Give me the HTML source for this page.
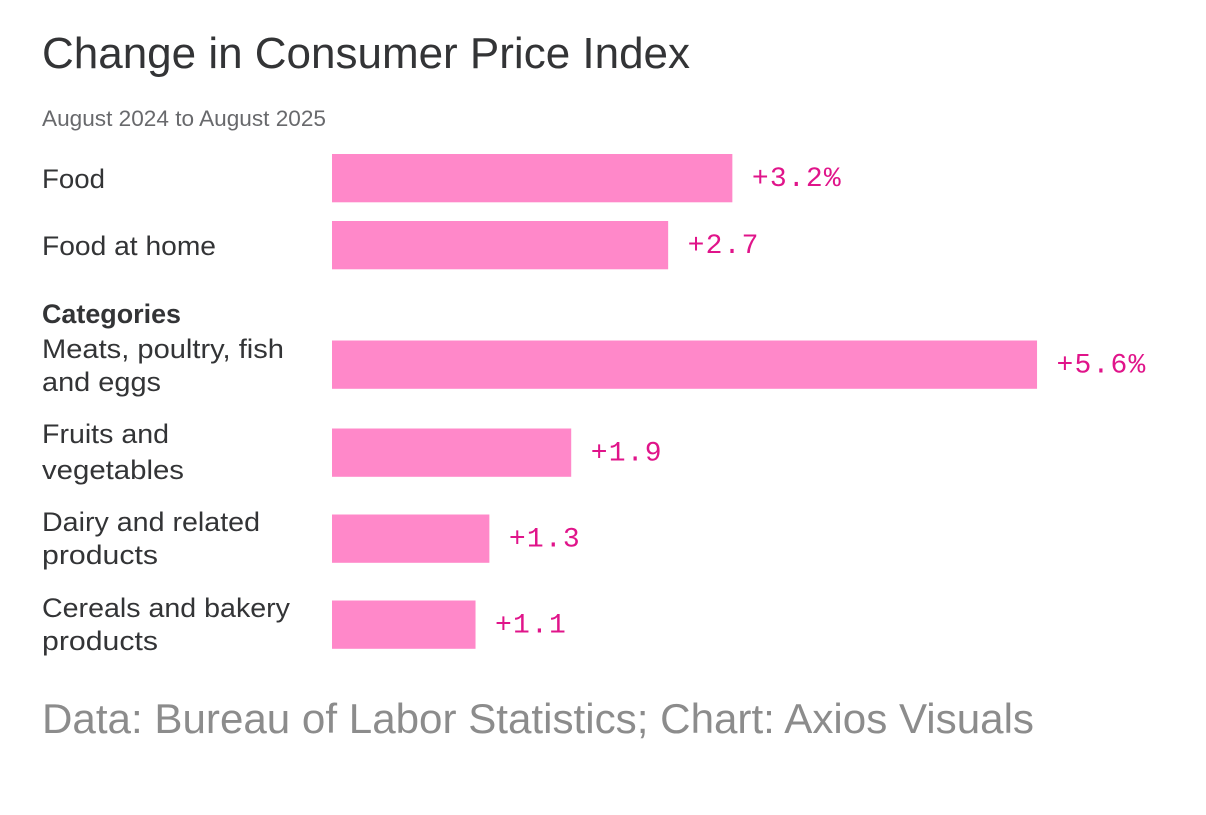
<!DOCTYPE html>
<html lang="en">
<head>
<meta charset="utf-8">
<title>Change in Consumer Price Index</title>
<style>
  html, body { margin: 0; padding: 0; background: #ffffff; }
  body { width: 1206px; height: 815px; overflow: hidden; }
  svg { display: block; }
  text { font-family: "Liberation Sans", sans-serif; }
  .cat { font-size: 27px; fill: #333436; }
  .val { font-family: "Liberation Mono", monospace; font-size: 28px; fill: #e0148a; letter-spacing: 1.2px; }
</style>
</head>
<body>
<svg id="chart" width="1206" height="815" viewBox="0 0 1206 815" xmlns="http://www.w3.org/2000/svg">
  <text x="42" y="68" font-size="44" fill="#333436" textLength="648" lengthAdjust="spacingAndGlyphs">Change in Consumer Price Index</text>
  <text x="42" y="126" font-size="22" fill="#68696c" textLength="284" lengthAdjust="spacingAndGlyphs">August 2024 to August 2025</text>

  <text class="cat" x="42" y="188" textLength="63" lengthAdjust="spacingAndGlyphs">Food</text>
  <text class="cat" x="42" y="255" textLength="174" lengthAdjust="spacingAndGlyphs">Food at home</text>
  <text class="cat" x="42" y="323" font-weight="bold" textLength="139" lengthAdjust="spacingAndGlyphs">Categories</text>
  <text class="cat" x="42" y="358" textLength="242" lengthAdjust="spacingAndGlyphs">Meats, poultry, fish</text>
  <text class="cat" x="42" y="391" textLength="119" lengthAdjust="spacingAndGlyphs">and eggs</text>
  <text class="cat" x="42" y="443" textLength="127" lengthAdjust="spacingAndGlyphs">Fruits and</text>
  <text class="cat" x="42" y="479" textLength="142" lengthAdjust="spacingAndGlyphs">vegetables</text>
  <text class="cat" x="42" y="531" textLength="218" lengthAdjust="spacingAndGlyphs">Dairy and related</text>
  <text class="cat" x="42" y="564" textLength="116" lengthAdjust="spacingAndGlyphs">products</text>
  <text class="cat" x="42" y="617" textLength="248" lengthAdjust="spacingAndGlyphs">Cereals and bakery</text>
  <text class="cat" x="42" y="650" textLength="116" lengthAdjust="spacingAndGlyphs">products</text>

  <g id="bars"></g>
  <g id="values"></g>

  <text x="42" y="733" font-size="42" fill="#8c8c8c" textLength="992" lengthAdjust="spacingAndGlyphs">Data: Bureau of Labor Statistics; Chart: Axios Visuals</text>
</svg>
<script>
const categories = ["Food", "Food at home", "Meats, poultry, fish and eggs", "Fruits and vegetables", "Dairy and related products", "Cereals and bakery products"];
const changeValues = [3.18, 2.67, 5.6, 1.9, 1.25, 1.14];
const valueLabels = ["+3.2%", "+2.7", "+5.6%", "+1.9", "+1.3", "+1.1"];

const SVG_NS = "http://www.w3.org/2000/svg";
const barsGroup = document.getElementById("bars");
const valuesGroup = document.getElementById("values");

function xScale(v) {
  return 125.9 * v;
}

function rowTop(i) {
  let top = 154;
  for (let r = 1; r <= i; r++) {
    if (r === 1) top += 67;
    else if (r === 2) top += 119.5;
    else if (r === 3) top += 88;
    else top += 86;
  }
  return top;
}

categories.forEach(function (cat, i) {
  const slug = cat.toLowerCase().replace(/[^a-z]+/g, "-");
  const w = xScale(changeValues[i]);
  const y = rowTop(i);

  const bar = document.createElementNS(SVG_NS, "rect");
  bar.setAttribute("x", 332);
  bar.setAttribute("y", y);
  bar.setAttribute("width", w);
  bar.setAttribute("height", 48.3);
  bar.setAttribute("fill", "#ff88c9");
  
  
  barsGroup.appendChild(bar);

  const label = document.createElementNS(SVG_NS, "text");
  label.setAttribute("class", "val");
  label.setAttribute("x", 332 + w + 19.5);
  label.setAttribute("y", y + 32);
  
  
  label.textContent = valueLabels[i];
  valuesGroup.appendChild(label);
});
</script>
</body>
</html>
